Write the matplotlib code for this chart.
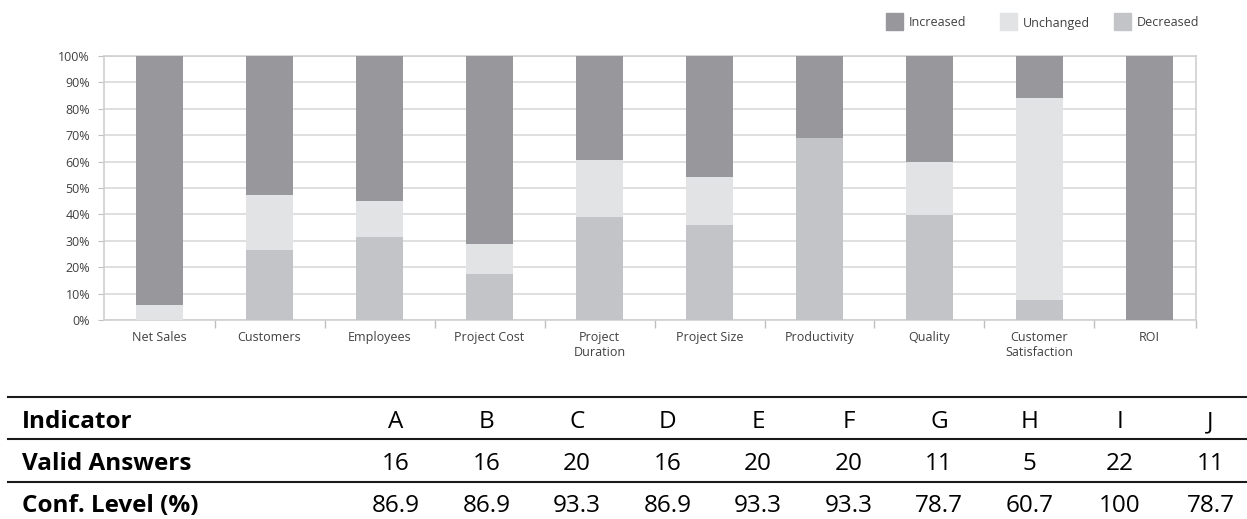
import numpy as np
import matplotlib
matplotlib.use("Agg")
import matplotlib.pyplot as plt
from matplotlib.patches import Rectangle
from matplotlib.lines import Line2D
from matplotlib.ticker import FuncFormatter

plt.rcParams['font.family'] = ['Open Sans', 'DejaVu Sans']

categories = ["Net Sales", "Customers", "Employees", "Project Cost", "Project\nDuration",
              "Project Size", "Productivity", "Quality", "Customer\nSatisfaction", "ROI"]
decreased = [0, 26.4, 31.5, 17.4, 39.0, 36.0, 69.1, 39.8, 7.7, 0]
unchanged = [5.8, 20.8, 13.6, 11.4, 21.6, 18.2, 0, 20.0, 76.4, 0]
increased = [94.2, 52.8, 54.9, 71.2, 39.4, 45.8, 30.9, 40.2, 15.9, 100]

series_names = ["Increased", "Unchanged", "Decreased"]
colors = {"Increased": "#98979c", "Unchanged": "#e2e3e5", "Decreased": "#c3c4c8"}

indicators = ["A", "B", "C", "D", "E", "F", "G", "H", "I", "J"]
valid_answers = [16, 16, 20, 16, 20, 20, 11, 5, 22, 11]
conf_level = ["86.9", "86.9", "93.3", "86.9", "93.3", "93.3", "78.7", "60.7", "100", "78.7"]

W, H = 1247, 519
fig = plt.figure(figsize=(W / 100, H / 100), dpi=100)

# main stacked chart
ax = fig.add_axes([104 / W, (H - 320) / H, (1196 - 104) / W, (320 - 56) / H])
x = np.arange(len(categories))
bw = 0.427
dec = np.array(decreased)
unc = np.array(unchanged)
inc = np.array(increased)
ax.bar(x, dec, bw, color=colors["Decreased"], zorder=3)
ax.bar(x, unc, bw, bottom=dec, color=colors["Unchanged"], zorder=3)
ax.bar(x, inc, bw, bottom=dec + unc, color=colors["Increased"], zorder=3)

ax.set_xlim(-0.505, 9.423)
ax.set_ylim(0, 100)
ax.set_yticks(np.arange(0, 101, 10))
ax.yaxis.set_major_formatter(FuncFormatter(lambda v, p: f"{v:.0f}%"))
ax.grid(axis="y", color="#d9d9d9", linewidth=1.2, zorder=0)
ax.tick_params(axis="y", length=4, color="#bfbfbf", labelsize=9,
               labelcolor="#404040", pad=6)

ax.set_xticks(x)
ax.set_xticklabels(categories)
ax.set_xticks(list(x[:-1] + 0.5) + [9.423], minor=True)
ax.tick_params(axis="x", which="major", length=0, labelsize=9,
               labelcolor="#404040", pad=8)
ax.tick_params(axis="x", which="minor", length=6, color="#bfbfbf", width=1)
for s in ax.spines.values():
    s.set_color("#d0d0d0")
    s.set_linewidth(1.2)

# legend row
for i, name in enumerate(series_names):
    x0 = 886 + 114 * i
    fig.patches.append(Rectangle((x0 / W, (H - 30) / H), 17 / W, 17 / H,
                                 transform=fig.transFigure, color=colors[name]))
    fig.text((x0 + 23) / W, (H - 23) / H, name, fontsize=9, color="#404040",
             va="center", ha="left")

# table below the chart
line_y = [397, 439, 482]
for ly in line_y:
    fig.add_artist(Line2D([8 / W, 1.0], [(H - ly) / H] * 2, color="#1a1a1a",
                          linewidth=1.5, transform=fig.transFigure))

rows = [("Indicator", indicators), ("Valid Answers", valid_answers),
        ("Conf. Level (%)", conf_level)]
row_y = [422, 464, 506]
for (label, vals), ry in zip(rows, row_y):
    fig.text(22 / W, (H - ry) / H, label, fontsize=17.5, fontweight="bold",
             va="center", ha="left", color="black")
    for j, v in enumerate(vals):
        fig.text((396 + 90.5 * j) / W, (H - ry) / H, str(v), fontsize=17.5,
                 va="center", ha="center", color="black")

fig.savefig("out.png", dpi=100)
